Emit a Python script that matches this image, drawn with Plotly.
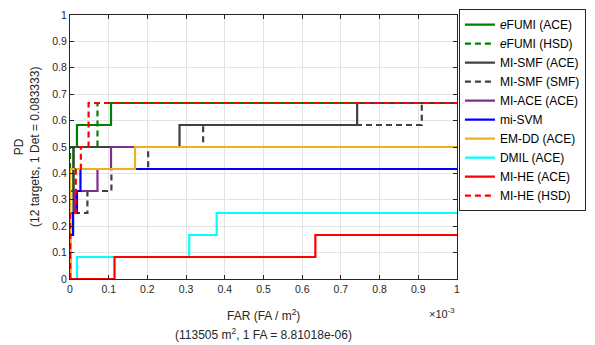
import plotly.graph_objects as go

# FAR in units of 1e-3 FA/m^2, PD as number of detected targets (out of 12)
N_TARGETS = 12

efumi_ace_far = [0, 0, 0.009, 0.018, 0.106, 1]
efumi_ace_det = [0, 4, 6, 7, 8, 8]

efumi_hsd_far = [0, 0, 0.071, 1]
efumi_hsd_det = [0, 6, 8, 8]

mismf_ace_far = [0, 0, 0.009, 0.283, 0.742, 1]
mismf_ace_det = [0, 3, 6, 7, 8, 8]

mismf_smf_far = [0, 0, 0.045, 0.107, 0.202, 0.344, 0.909, 1]
mismf_smf_det = [0, 3, 4, 5, 6, 7, 8, 8]

miace_far = [0, 0, 0.013, 0.071, 0.106, 1]
miace_det = [0, 3, 4, 5, 6, 6]

misvm_far = [0, 0, 0.008, 0.018, 0.027, 1]
misvm_det = [0, 2, 3, 4, 5, 5]

emdd_far = [0, 0, 0.168, 1]
emdd_det = [0, 5, 6, 6]

dmil_far = [0, 0.018, 0.308, 0.379, 1]
dmil_det = [0, 1, 2, 3, 3]

mihe_ace_far = [0, 0.115, 0.634, 1]
mihe_ace_det = [0, 1, 2, 2]

mihe_hsd_far = [0, 0, 0.015, 0.028, 0.048, 1]
mihe_hsd_det = [0, 3, 5, 6, 8, 8]

series = [
    ("<i>e</i>FUMI (ACE)", efumi_ace_far, efumi_ace_det, "#008000", "solid"),
    ("<i>e</i>FUMI (HSD)", efumi_hsd_far, efumi_hsd_det, "#008000", "6px,4px"),
    ("MI-SMF (ACE)", mismf_ace_far, mismf_ace_det, "#404040", "solid"),
    ("MI-SMF (SMF)", mismf_smf_far, mismf_smf_det, "#404040", "6px,4px"),
    ("MI-ACE (ACE)", miace_far, miace_det, "#7E2F8E", "solid"),
    ("mi-SVM", misvm_far, misvm_det, "#0000FF", "solid"),
    ("EM-DD (ACE)", emdd_far, emdd_det, "#EDB120", "solid"),
    ("DMIL (ACE)", dmil_far, dmil_det, "#00FFFF", "solid"),
    ("MI-HE (ACE)", mihe_ace_far, mihe_ace_det, "#FF0000", "solid"),
    ("MI-HE (HSD)", mihe_hsd_far, mihe_hsd_det, "#FF0000", "6px,4px"),
]

fig = go.Figure()
for name, far, det, color, dash in series:
    fig.add_trace(go.Scatter(
        x=far, y=[d / N_TARGETS for d in det], name=name, mode="lines",
        line=dict(color=color, width=2.2, dash=dash, shape="hv"),
    ))

axis_common = dict(
    showgrid=True, gridcolor="#E3E3E3", gridwidth=1,
    showline=True, linecolor="#262626", linewidth=1, mirror="ticks",
    ticks="inside", ticklen=4, tickcolor="#262626",
    tickfont=dict(family="Liberation Sans, Arial", size=10.5, color="#262626"),
    zeroline=False,
)

tick_vals = [i / 10 for i in range(11)]
tick_text = ["0"] + [f"{v:g}" for v in tick_vals[1:]]

fig.update_layout(
    width=595, height=345,
    margin=dict(l=70, r=138, t=9, b=66),
    plot_bgcolor="white", paper_bgcolor="white",
    font=dict(family="Liberation Sans, Arial", color="#262626"),
    xaxis=dict(range=[0, 1], tickvals=tick_vals, ticktext=tick_text, **axis_common),
    yaxis=dict(range=[0, 1], tickvals=tick_vals, ticktext=tick_text, **axis_common),
    showlegend=True,
    legend=dict(
        x=1.005, y=1.022, xanchor="left", yanchor="top",
        bgcolor="white", bordercolor="#262626", borderwidth=1,
        font=dict(family="Liberation Sans, Arial", size=12, color="#000000"),
        tracegroupgap=0, itemwidth=30, maxheight=330,
    ),
    annotations=[
        dict(text="FAR (FA / m<sup>2</sup>)", xref="paper", yref="paper",
             x=0.5, y=-0.098, xanchor="center", yanchor="top", showarrow=False,
             font=dict(size=12, color="#262626")),
        dict(text="(113505 m<sup>2</sup>, 1 FA = 8.81018e-06)", xref="paper", yref="paper",
             x=0.5, y=-0.17, xanchor="center", yanchor="top", showarrow=False,
             font=dict(size=12, color="#262626")),
        dict(text="×10<sup>-3</sup>", xref="paper", yref="paper",
             x=1.0, y=-0.095, xanchor="right", yanchor="top", showarrow=False,
             font=dict(size=11, color="#262626")),
        dict(text="PD<br>(12 targets, 1 Det = 0.083333)", xref="paper", yref="paper",
             x=-0.111, y=0.5, xanchor="center", yanchor="middle", showarrow=False,
             textangle=-90, font=dict(size=12, color="#262626")),
    ],
)

fig.write_html("out.html")
